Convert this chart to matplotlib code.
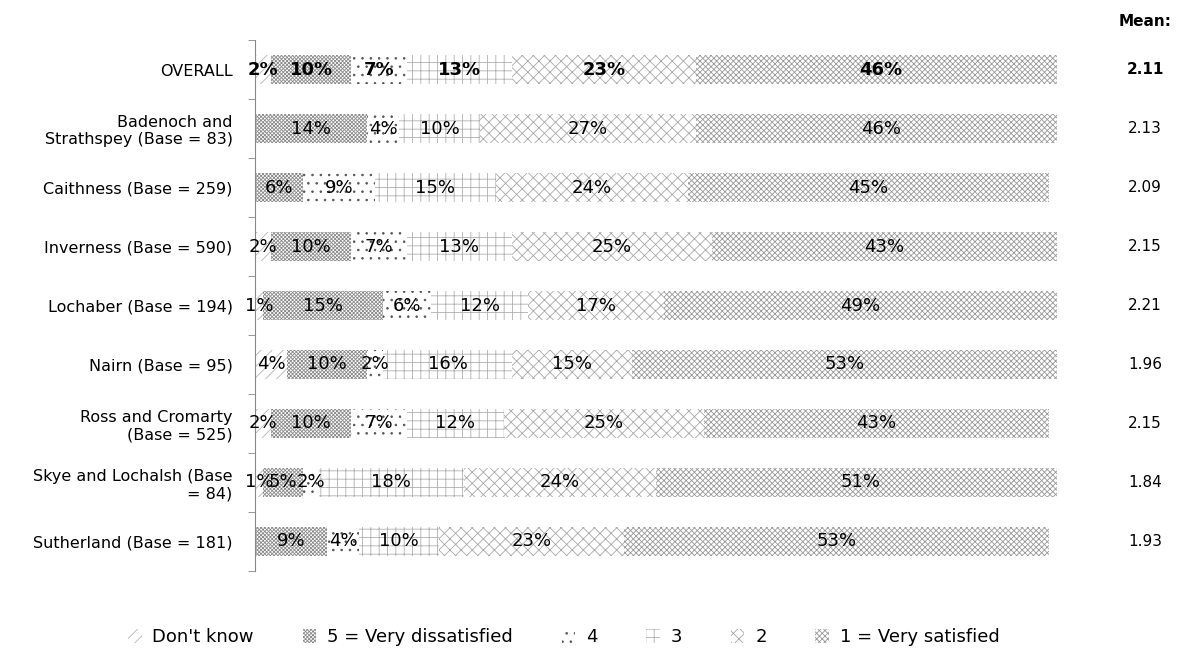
import matplotlib.pyplot as plt
from matplotlib.transforms import blended_transform_factory
import numpy as np

plt.rcParams['font.family'] = ['DejaVu Sans']
plt.rcParams['hatch.linewidth'] = 0.6

# Satisfaction ratings by area (percent of respondents)
areas = ['OVERALL', 'Badenoch and\nStrathspey (Base = 83)', 'Caithness (Base = 259)',
         'Inverness (Base = 590)', 'Lochaber (Base = 194)', 'Nairn (Base = 95)',
         'Ross and Cromarty\n(Base = 525)', 'Skye and Lochalsh (Base\n= 84)',
         'Sutherland (Base = 181)']
responses = ["Don't know", '5 = Very dissatisfied', '4', '3', '2', '1 = Very satisfied']
dont_know = [2, 0, 0, 2, 1, 4, 2, 1, 0]
very_dissatisfied = [10, 14, 6, 10, 15, 10, 10, 5, 9]
four = [7, 4, 9, 7, 6, 2, 7, 2, 4]
three = [13, 10, 15, 13, 12, 16, 12, 18, 10]
two = [23, 27, 24, 25, 17, 15, 25, 24, 23]
very_satisfied = [46, 46, 45, 43, 49, 53, 43, 51, 53]
means = [2.11, 2.13, 2.09, 2.15, 2.21, 1.96, 2.15, 1.84, 1.93]

series = [dont_know, very_dissatisfied, four, three, two, very_satisfied]
hatches = ['///', 'xxxxxxxxx', '..', '++', 'xxx', 'xxxxxx']
hatch_cols = ['#b5b5b5', '#8c8c8c', '#555555', '#b0b0b0', '#a8a8a8', '#9a9a9a']

fig = plt.figure(figsize=(11.87, 6.57), dpi=100)
ax = fig.add_axes([0.2148, 0.131, 0.6757, 0.808])

y = np.arange(len(areas))
left = np.zeros(len(areas))
for vals, name, h, hc in zip(series, responses, hatches, hatch_cols):
    vals = np.array(vals, dtype=float)
    ax.barh(y, vals, left=left, height=0.5, color='white', edgecolor=hc,
            linewidth=0, hatch=h, label=name)
    for i, v in enumerate(vals):
        if v > 0:
            ax.text(left[i] + v / 2, y[i], f'{int(v)}%', ha='center', va='center',
                    fontsize=13, color='black',
                    fontweight='bold' if i == 0 else 'normal')
    left += vals

ax.set_xlim(0, 100)
ax.set_ylim(len(areas) - 0.5, -0.5)
ax.set_yticks(y)
ax.set_yticklabels(areas, fontsize=11.5)
ax.set_yticks(np.arange(len(areas) + 1) - 0.5, minor=True)
ax.tick_params(axis='y', which='major', length=0, pad=16)
ax.tick_params(axis='y', which='minor', length=5, color='#888888')
ax.set_xticks([])
for s in ['top', 'right', 'bottom']:
    ax.spines[s].set_visible(False)
ax.spines['left'].set_color('#888888')

# Mean score column
tr = blended_transform_factory(fig.transFigure, ax.transData)
fig.text(0.9646, 0.968, 'Mean:', ha='center', va='center', fontsize=11, fontweight='bold')
for i, m in enumerate(means):
    ax.text(0.9646, y[i], f'{m:.2f}', transform=tr, ha='center', va='center',
            fontsize=11, fontweight='bold' if i == 0 else 'normal')

fig.legend(loc='center', bbox_to_anchor=(0.475, 0.030), ncol=6, frameon=False,
           fontsize=13, handlelength=0.75, handleheight=0.75, columnspacing=2.7,
           handletextpad=0.6)

plt.savefig('out.png', dpi=100)
